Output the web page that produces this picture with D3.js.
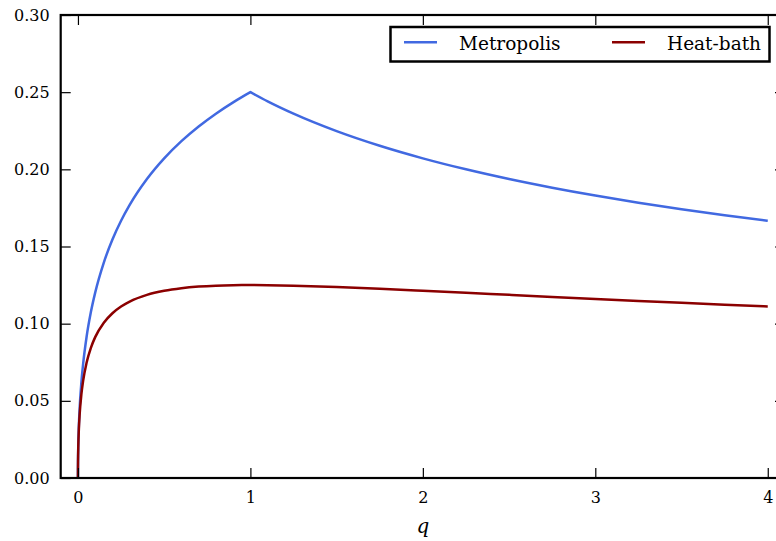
<!DOCTYPE html>
<html>
<head>
<meta charset="utf-8">
<script src="https://cdn.jsdelivr.net/npm/d3@7"></script>
<style>
  html, body { margin: 0; padding: 0; background: #fff; }
  svg { display: block; }
</style>
</head>
<body>
<svg id="chart" width="776" height="541"></svg>
<script>
// ---- data ----
const qValues = [0, 0.0001, 0.0005, 0.001, 0.002, 0.005, 0.01, 0.02, 0.03, 0.05, 0.075, 0.1, 0.15, 0.2, 0.25, 0.3, 0.4, 0.5, 0.6, 0.7, 0.8, 0.9, 0.95, 1.0, 1.1, 1.25, 1.5, 1.75, 2.0, 2.25, 2.5, 2.75, 3.0, 3.25, 3.5, 3.75, 4.0];
const metropolis = [0, 0.00495, 0.01094, 0.01533, 0.02140, 0.03302, 0.04545, 0.06195, 0.07382, 0.09137, 0.10749, 0.12013, 0.13959, 0.15451, 0.16667, 0.17695, 0.19371, 0.20711, 0.21825, 0.22777, 0.23607, 0.24342, 0.24679, 0.25, 0.24404, 0.23607, 0.22475, 0.21525, 0.20711, 0.2, 0.19371, 0.18809, 0.18301, 0.17840, 0.17417, 0.17027, 0.16667];
const heatBath = [0, 0.00490, 0.01070, 0.01486, 0.02049, 0.03084, 0.04132, 0.05427, 0.06292, 0.07467, 0.08438, 0.09127, 0.10062, 0.10676, 0.11111, 0.11433, 0.11866, 0.12132, 0.12298, 0.12401, 0.12461, 0.12491, 0.12498, 0.125, 0.12493, 0.12461, 0.12372, 0.12259, 0.12132, 0.12, 0.11866, 0.11733, 0.11603, 0.11475, 0.11350, 0.11229, 0.11111];
const seriesNames = ["Metropolis", "Heat-bath"];
const seriesColors = ["#4169E1", "#8B0000"];
const xTicks = [0, 1, 2, 3, 4];
const yTicks = [0, 0.05, 0.10, 0.15, 0.20, 0.25, 0.30];
const xLabel = "q";

// ---- layout ----
const svg = d3.select("#chart");
const plotL = 60.7, plotR = 785, plotT = 15, plotB = 478;
const x = d3.scaleLinear().domain([-0.1, 4.1]).range([plotL, plotR]);
const y = d3.scaleLinear().domain([0, 0.30]).range([plotB, plotT]);
const serif = "'DejaVu Serif', serif";

// curves (smooth on each side of q = 1, keeping the cusp at q = 1)
const series = [metropolis, heatBath];
const line = d3.line().x(d => x(d[0])).y(d => y(d[1])).curve(d3.curveMonotoneX);
series.forEach((vals, i) => {
  const pts = qValues.map((q, k) => [q, vals[k]]);
  const seg1 = pts.filter(p => p[0] <= 1);
  const seg2 = pts.filter(p => p[0] >= 1);
  const d = line(seg1) + line(seg2).replace(/^M[^A-Za-z]*/, "");
  svg.append("path")
    .attr("fill", "none")
    .attr("stroke", seriesColors[i])
    .attr("stroke-width", 2.5)
    .attr("stroke-linejoin", "miter")
    .attr("d", d);
});

// axes
function styleAxis(g) {
  g.select(".domain").remove();
  g.selectAll(".tick line").attr("stroke", "#000").attr("stroke-width", 1.2);
  g.selectAll(".tick text").attr("fill", "#000").style("font-family", serif).style("font-size", "16px");
}
svg.append("g").attr("transform", `translate(0,${plotB})`)
  .call(d3.axisBottom(x).tickValues(xTicks).tickFormat(d3.format("d")).tickSizeInner(-10).tickSizeOuter(0).tickPadding(13.5))
  .call(styleAxis);
svg.append("g").attr("transform", `translate(0,${plotT})`)
  .call(d3.axisTop(x).tickValues(xTicks).tickFormat("").tickSizeInner(-10).tickSizeOuter(0))
  .call(styleAxis);
svg.append("g").attr("transform", `translate(${plotL},0)`)
  .call(d3.axisLeft(y).tickValues(yTicks).tickFormat(d3.format(".2f")).tickSizeInner(-10).tickSizeOuter(0).tickPadding(11))
  .call(styleAxis);
svg.append("g").attr("transform", `translate(${plotR},0)`)
  .call(d3.axisRight(y).tickValues(yTicks).tickFormat("").tickSizeInner(-10).tickSizeOuter(0))
  .call(styleAxis);

// spines
svg.append("rect")
  .attr("x", plotL).attr("y", plotT)
  .attr("width", plotR - plotL).attr("height", plotB - plotT)
  .attr("fill", "none").attr("stroke", "#000").attr("stroke-width", 2.2);

// x label
svg.append("text")
  .attr("x", x(2)).attr("y", 533)
  .attr("text-anchor", "middle")
  .style("font-family", serif).style("font-style", "italic").style("font-size", "20px")
  .text(xLabel);

// legend
const lg = svg.append("g");
lg.append("rect")
  .attr("x", 390.5).attr("y", 27).attr("width", 379).attr("height", 34.5)
  .attr("fill", "#fff").attr("stroke", "#000").attr("stroke-width", 2.5);
const legendLineX = [404, 612];
const legendTextX = [459, 667];
seriesNames.forEach((name, i) => {
  lg.append("line")
    .attr("x1", legendLineX[i]).attr("x2", legendLineX[i] + 33)
    .attr("y1", 42.3).attr("y2", 42.3)
    .attr("stroke", seriesColors[i]).attr("stroke-width", 2.5);
  lg.append("text")
    .attr("x", legendTextX[i]).attr("y", 50)
    .style("font-family", serif).style("font-size", "18.5px")
    .attr("fill", "#000")
    .text(name);
});
</script>
</body>
</html>
